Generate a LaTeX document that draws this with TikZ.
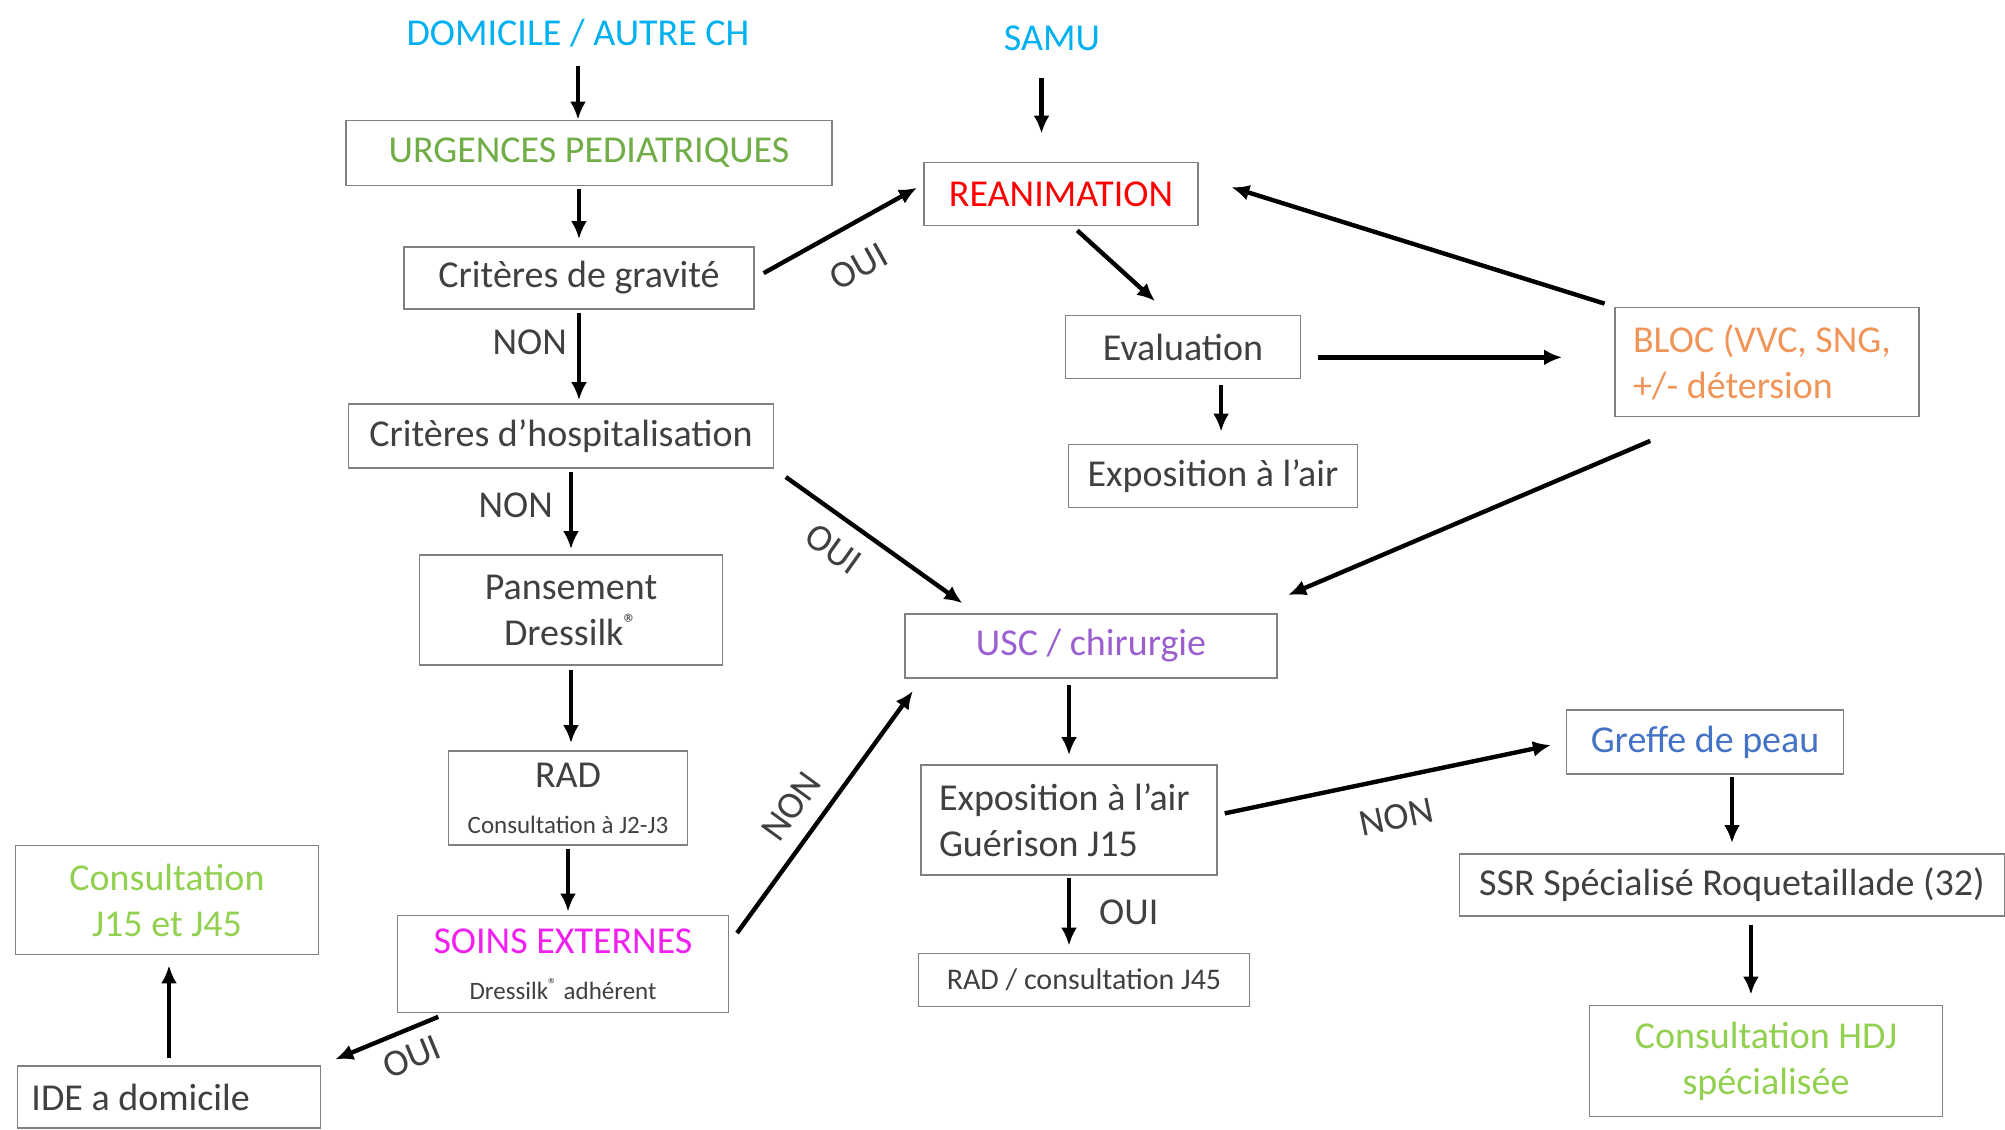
\documentclass[tikz,border=0pt]{standalone}
\usepackage{fontspec}
\setmainfont{Carlito}
\usetikzlibrary{arrows.meta}

\definecolor{bleuciel}{HTML}{00B0F0}
\definecolor{vertur}{HTML}{70AD47}
\definecolor{rougerea}{HTML}{FF0000}
\definecolor{orangebloc}{HTML}{F0955A}
\definecolor{violetusc}{HTML}{9B5FD0}
\definecolor{magentasoins}{HTML}{F020F0}
\definecolor{vertclair}{HTML}{92D050}
\definecolor{bleugreffe}{HTML}{4472C4}
\definecolor{txtgris}{HTML}{404040}
\definecolor{bordgris}{HTML}{808080}

\begin{document}
\begin{tikzpicture}[x=0.5pt, y=-0.5pt, >={Latex[length=9pt,width=8pt]},
    boite/.style={draw=bordgris, line width=0.9pt, text=txtgris, font=\fontsize{19}{23}\selectfont, inner sep=4pt},
    titre/.style={text=bleuciel, font=\fontsize{19}{23}\selectfont, inner sep=3pt},
    etiq/.style={text=txtgris, font=\fontsize{19}{23}\selectfont, inner sep=3pt},
    fleche/.style={->, line width=2.2pt}]
    \useasboundingbox (0,0) rectangle (2005,1129);

    % 1. Entrées
    \node[titre] (dom) at (578,33) {DOMICILE / AUTRE CH};
    \node[titre] (samu) at (1052,38) {SAMU};

    % 2. Colonne de gauche
    \node[boite, text=vertur, minimum width=243pt, minimum height=32.5pt] (urg) at (589,153) {URGENCES PEDIATRIQUES};
    \node[boite, minimum width=175pt, minimum height=31pt] (grav) at (579,278) {Critères de gravité};
    \node[boite, minimum width=212.5pt, minimum height=32pt] (hosp) at (561,436) {Critères d’hospitalisation};
    \node[boite, align=center, minimum width=151.5pt, minimum height=55pt] (pans) at (571,610) {Pansement\\Dressilk\textsuperscript{®}};
    \node[boite, align=center, minimum width=119.5pt, minimum height=47pt] (rad) at (568,798) {RAD\\{\fontsize{12.5}{15}\selectfont Consultation à J2-J3}};
    \node[boite, align=center, minimum width=165.5pt, minimum height=48.5pt] (soins) at (563,964) {\textcolor{magentasoins}{SOINS EXTERNES}\\{\fontsize{12.5}{15}\selectfont Dressilk\textsuperscript{®} adhérent}};
    \node[boite, text=vertclair, align=center, minimum width=151.5pt, minimum height=54.5pt] (cons) at (167,900) {Consultation\\J15 et J45};
    \node[boite, text width=137.5pt, inner xsep=7pt, align=flush left, minimum height=31pt] (ide) at (169,1097) {IDE a domicile};

    % 3. Colonne de droite
    \node[boite, text=rougerea, minimum width=137pt, minimum height=31.5pt] (rea) at (1061,194) {REANIMATION};
    \node[boite, minimum width=117.5pt, minimum height=31.5pt] (eval) at (1183,347) {Evaluation};
    \node[boite, minimum width=144.5pt, minimum height=31.5pt] (expo) at (1213,476) {Exposition à l’air};
    \node[boite, text=orangebloc, text width=134pt, inner xsep=9pt, align=flush left, minimum height=54.5pt] (bloc) at (1767,362) {BLOC (VVC, SNG,\\+/- détersion};
    \node[boite, text=violetusc, minimum width=186pt, minimum height=32pt] (usc) at (1091,646) {USC / chirurgie};
    \node[boite, text width=130pt, inner xsep=9pt, align=flush left, minimum height=55pt] (gueri) at (1069,820) {Exposition à l’air\\Guérison J15};
    \node[boite, font=\fontsize{15}{18}\selectfont, minimum width=165.5pt, minimum height=26.5pt] (rad45) at (1084,980) {RAD / consultation J45};
    \node[boite, text=bleugreffe, minimum width=138.5pt, minimum height=32pt] (greffe) at (1705,742) {Greffe de peau};
    \node[boite, minimum width=272.5pt, minimum height=31pt] (ssr) at (1732,885) {SSR Spécialisé Roquetaillade (32)};
    \node[boite, text=vertclair, align=center, minimum width=176.5pt, minimum height=55.5pt] (hdj) at (1766,1061) {Consultation HDJ\\spécialisée};

    % 4. Flèches à gauche
    \draw[fleche, shorten <=6.5pt] (dom.south) -- (dom.south |- urg.north);
    \draw[fleche, shorten <=1.5pt, shorten >=3.5pt] (grav.north |- urg.south) -- (grav.north);
    \draw[fleche, shorten <=5pt, shorten >=3.5pt] (grav.east) -- (rea.176)
        node[etiq, sloped, below=10pt, pos=0.5] (ouiA) {OUI};
    \draw[fleche, shorten <=1.5pt, shorten >=1.5pt] (grav.south) -- (grav.south |- hosp.north)
        node[etiq, left=2pt, pos=0.35] (nonA) {NON};
    \draw[fleche, shorten <=1.5pt, shorten >=2.5pt] (pans.north |- hosp.south) -- (pans.north)
        node[etiq, left=5pt, pos=0.43] (nonB) {NON};
    \draw[fleche, shorten <=7pt, shorten >=8.5pt] (hosp.south east) -- (usc.164)
        node[etiq, sloped, below=5pt, pos=0.38] (ouiB) {OUI};
    \draw[fleche, shorten <=2pt, shorten >=3.5pt] (pans.south) -- (pans.south |- rad.north);
    \draw[fleche, shorten <=1.5pt, shorten >=1.5pt] (rad.south) -- (rad.south |- soins.north);
    \draw[fleche, shorten <=6.5pt, shorten >=7.5pt] (soins.7) -- (usc.191)
        node[etiq, sloped, above=5pt, pos=0.45] (nonC) {NON};
    \draw[fleche, shorten <=4.5pt, shorten >=7.5pt] (soins.203) -- (ide.north east)
        node[etiq, sloped, below=3pt, pos=0.36] (ouiC) {OUI};
    \draw[fleche, shorten <=3.5pt, shorten >=5pt] (ide.north) -- (ide.north |- cons.south);

    % 5. Flèches à droite
    \draw[fleche, shorten <=10.5pt, shorten >=14pt] (rea.121 |- samu.south) -- (rea.121);
    \draw[fleche, shorten <=3pt, shorten >=10pt] (rea.-70) -- (eval.112);
    \draw[fleche, shorten <=3pt, shorten >=6pt] (expo.76 |- eval.south) -- (expo.76);
    \draw[fleche, shorten <=8.5pt, shorten >=26pt] (eval.-5) -- (eval.-5 -| bloc.west);
    \draw[fleche, shorten <=5pt, shorten >=17pt] (bloc.north west) -- (rea.7);
    \draw[fleche, shorten <=30pt, shorten >=23pt] (bloc.222) -- (usc.12);
    \draw[fleche, shorten <=3pt, shorten >=4.5pt] (gueri.north |- usc.south) -- (gueri.north);
    \draw[fleche, shorten <=1pt, shorten >=3.5pt] (gueri.south) -- (gueri.south |- rad45.north)
        node[etiq, right=11pt, pos=0.48] (ouiD) {OUI};
    \draw[fleche, shorten <=3.5pt, shorten >=7.5pt] (gueri.2) -- (greffe.west)
        node[etiq, sloped, below=9pt, pos=0.49] (nonD) {NON};
    \draw[fleche, shorten <=1pt, shorten >=5pt] (ssr.north |- greffe.south) -- (ssr.north);
    \draw[fleche, shorten <=4pt, shorten >=5pt] (hdj.105 |- ssr.south) -- (hdj.105);
\end{tikzpicture}
\end{document}
